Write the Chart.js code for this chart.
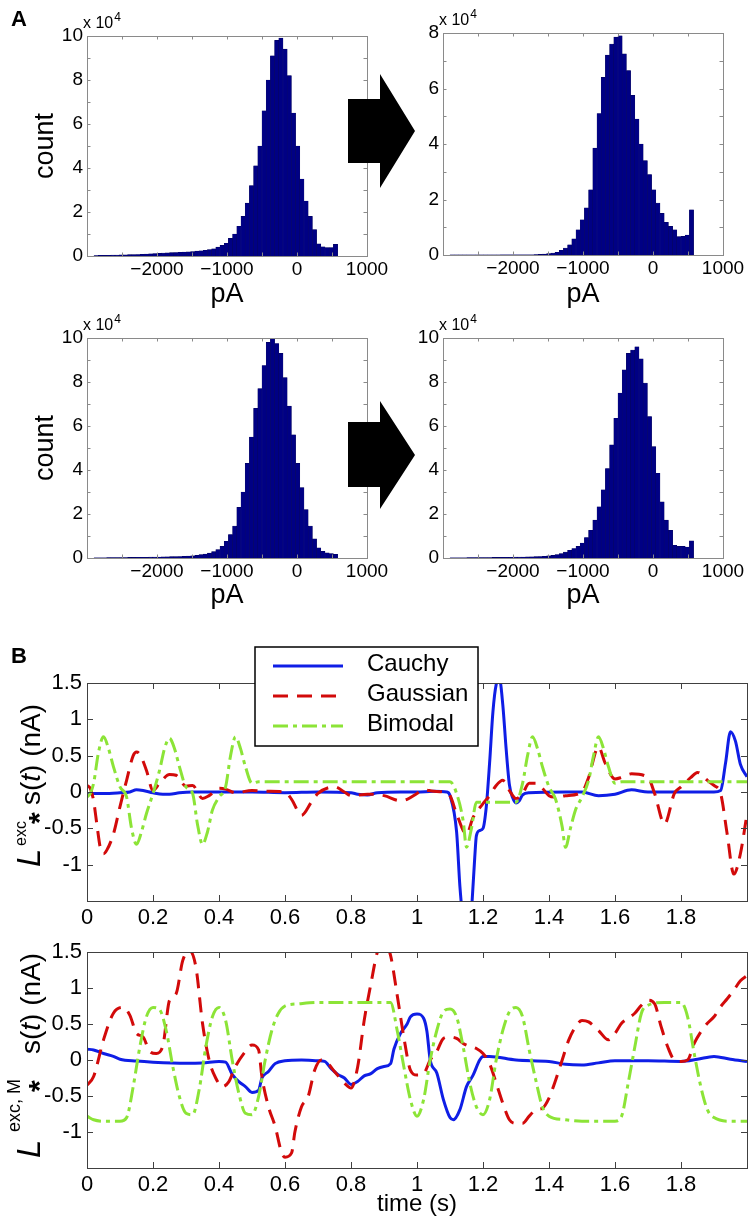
<!DOCTYPE html>
<html><head><meta charset="utf-8">
<script src="https://cdn.jsdelivr.net/npm/chart.js@4/dist/chart.umd.min.js"></script>
<style>
html,body{margin:0;padding:0;background:#fff;}
#wrap{position:relative;width:756px;height:1228px;overflow:hidden;background:#fff;}
canvas{position:absolute;}
svg{position:absolute;left:0;top:0;pointer-events:none;}
</style></head><body>
<div id="wrap">
<canvas id="h1" width="400" height="320" style="left:0px;top:0px"></canvas>
<canvas id="h2" width="378" height="320" style="left:378px;top:0px"></canvas>
<canvas id="h3" width="400" height="320" style="left:0px;top:300px"></canvas>
<canvas id="h4" width="378" height="320" style="left:378px;top:300px"></canvas>
<canvas id="b1" width="756" height="300" style="left:0px;top:630px"></canvas>
<canvas id="b2" width="756" height="298" style="left:0px;top:930px"></canvas>
<svg width="756" height="1228">
  <polygon points="348,99 380,99 380,74 415,131 380,188 380,163 348,163" fill="#000"/>
  <polygon points="348,422 380,422 380,401 415,455 380,509 380,487 348,487" fill="#000"/>
  <text x="11" y="26" font-family="'Liberation Sans', Arial, sans-serif" font-weight="bold" font-size="22">A</text>
  <text x="11" y="663" font-family="'Liberation Sans', Arial, sans-serif" font-weight="bold" font-size="22">B</text>
</svg>
</div>
<script>
// ---------------- DATA ----------------
// Histogram bin centres (pA), 60 pA bins
const binCenters = [-2870,-2810,-2750,-2690,-2630,-2570,-2510,-2450,-2390,-2330,-2270,-2210,-2150,-2090,-2030,
  -1970,-1910,-1850,-1790,-1730,-1670,-1610,-1550,-1490,-1430,-1370,-1310,-1250,-1190,-1130,-1070,-1010,
  -950,-890,-830,-770,-710,-650,-590,-530,-470,-410,-350,-290,-230,-170,-110,-50,
  10,70,130,190,250,310,370,430,490,550];
// counts in units of 10^4
const histTopLeft = [0.02,0.03,0.03,0.03,0.04,0.04,0.05,0.05,0.06,0.06,0.07,0.08,0.09,0.10,0.11,
  0.12,0.13,0.14,0.15,0.16,0.17,0.18,0.19,0.20,0.22,0.24,0.26,0.29,0.33,0.40,0.48,0.58,
  0.8,1.0,1.35,1.8,2.4,3.2,4.1,5.0,6.6,8.0,9.1,9.8,9.9,9.4,8.2,6.5,
  5.0,3.5,2.5,1.8,1.2,0.55,0.42,0.38,0.38,0.53];
const histTopRight = [0.002,0.002,0.002,0.002,0.002,0.002,0.003,0.003,0.003,0.003,0.003,0.003,0.004,0.004,0.004,
  0.004,0.005,0.006,0.008,0.01,0.015,0.02,0.03,0.05,0.07,0.1,0.17,0.25,0.37,0.58,0.91,1.27,
  1.7,2.35,3.85,5.1,6.4,7.2,7.6,7.85,7.9,7.25,6.65,5.75,4.9,4.0,3.4,2.9,
  2.35,1.87,1.5,1.18,1.03,0.91,0.66,0.67,0.72,1.63];
const histBottomLeft = [0.01,0.01,0.01,0.015,0.015,0.02,0.02,0.02,0.025,0.025,0.03,0.03,0.035,0.04,0.04,
  0.045,0.05,0.055,0.06,0.065,0.07,0.08,0.09,0.1,0.12,0.15,0.18,0.22,0.29,0.38,0.53,0.76,
  1.07,1.45,2.3,3.0,4.3,5.5,6.8,7.7,8.75,9.8,9.97,9.75,9.3,8.2,6.9,5.6,
  4.3,3.2,2.2,1.45,0.87,0.46,0.3,0.23,0.2,0.17];
const histBottomRight = [0.01,0.01,0.01,0.01,0.015,0.015,0.015,0.02,0.02,0.02,0.025,0.025,0.03,0.03,0.035,
  0.04,0.04,0.045,0.05,0.055,0.06,0.07,0.08,0.1,0.12,0.15,0.2,0.27,0.35,0.43,0.53,0.68,
  0.93,1.26,1.72,2.33,3.1,4.07,5.14,6.35,7.5,8.55,9.3,9.45,9.6,9.05,7.95,6.43,
  5.06,3.85,2.55,1.72,1.26,0.58,0.53,0.53,0.5,0.78];
const histXLabels = [-2000,-1000,0,1000];
const histYLabels = [0,2,4,6,8,10];

// Panel B, top: L^exc * s(t) (nA)
const topCauchyT = [0,0.05,0.1,0.13,0.15,0.17,0.2,0.23,0.25,0.28,0.32,0.4,0.5,0.6,0.7,0.8,0.82,0.85,0.88,0.95,1.0,1.05,1.09,1.1,1.12,1.13,1.14,1.15,1.16,1.167,1.175,1.18,1.19,1.2,1.21,1.22,1.23,1.24,1.25,1.26,1.27,1.28,1.29,1.3,1.31,1.32,1.34,1.45,1.5,1.55,1.6,1.65,1.7,1.8,1.9,1.92,1.935,1.95,1.965,1.98,2.0];
const topCauchyV = [-0.02,-0.02,-0.01,0.0,0.03,0.02,-0.01,-0.03,-0.03,-0.01,0.0,0.0,0.0,-0.01,0.0,-0.01,-0.03,-0.04,-0.01,0.0,0.0,0.01,0.0,-0.05,-0.55,-1.3,-1.8,-2.2,-1.9,-1.5,-0.9,-0.6,-0.53,-0.5,-0.2,0.4,1.1,1.48,1.55,1.2,0.6,0.1,-0.08,-0.15,-0.12,-0.04,-0.01,0.0,0.0,-0.05,-0.03,0.03,0.0,0.0,0.0,0.02,0.4,0.83,0.7,0.38,0.21];
const topGaussT = [0,0.01,0.02,0.03,0.04,0.05,0.06,0.08,0.1,0.12,0.14,0.15,0.16,0.18,0.2,0.22,0.25,0.27,0.3,0.32,0.35,0.37,0.4,0.42,0.45,0.5,0.55,0.6,0.62,0.65,0.68,0.7,0.75,0.78,0.8,0.85,0.9,0.95,0.97,1.0,1.02,1.05,1.08,1.1,1.12,1.15,1.17,1.2,1.22,1.24,1.26,1.28,1.3,1.32,1.34,1.36,1.38,1.4,1.42,1.45,1.5,1.52,1.55,1.57,1.6,1.62,1.65,1.7,1.72,1.75,1.78,1.8,1.83,1.85,1.88,1.9,1.92,1.94,1.96,1.98,2.0];
const topGaussV = [0.09,0.05,-0.12,-0.45,-0.76,-0.85,-0.8,-0.58,-0.2,0.16,0.5,0.55,0.52,0.3,0.02,0.12,0.24,0.23,0.08,0.09,-0.09,-0.05,0.05,0.04,-0.01,0.02,0.01,0.0,-0.1,-0.32,-0.14,-0.02,0.07,0.0,-0.05,-0.03,-0.05,-0.12,-0.1,-0.02,0.03,0.01,0.0,-0.05,-0.3,-0.58,-0.35,-0.16,-0.05,0.09,0.16,0.02,-0.09,-0.02,0.12,0.12,0.05,-0.05,-0.07,-0.05,0.0,0.2,0.62,0.4,0.18,0.2,0.25,0.2,-0.02,-0.44,-0.02,0.07,0.2,0.27,0.16,0.09,-0.02,-0.58,-1.13,-0.85,-0.3];
const topBiT = [0,0.01,0.02,0.035,0.05,0.065,0.08,0.1,0.12,0.135,0.15,0.165,0.18,0.2,0.22,0.235,0.25,0.265,0.28,0.3,0.32,0.335,0.35,0.365,0.38,0.4,0.42,0.435,0.45,0.465,0.48,0.5,0.52,0.55,1.1,1.12,1.14,1.15,1.165,1.18,1.2,1.3,1.32,1.335,1.35,1.365,1.38,1.4,1.42,1.44,1.45,1.465,1.48,1.5,1.52,1.535,1.55,1.565,1.58,1.6,1.62,2.0];
const topBiV = [-0.07,-0.02,0.12,0.55,0.76,0.6,0.35,0.07,-0.07,-0.5,-0.72,-0.55,-0.3,-0.02,0.3,0.6,0.74,0.6,0.35,0.07,-0.02,-0.45,-0.72,-0.55,-0.25,-0.07,0.07,0.5,0.76,0.6,0.35,0.12,0.14,0.14,0.14,-0.02,-0.4,-0.76,-0.5,-0.14,-0.14,-0.14,0.12,0.5,0.76,0.6,0.35,0.07,-0.1,-0.48,-0.76,-0.5,-0.25,-0.07,0.16,0.5,0.76,0.6,0.35,0.12,0.14,0.14];

// Panel B, bottom: L^exc,M * s(t) (nA)
const botCauchyT = [0,0.02,0.05,0.08,0.1,0.15,0.2,0.3,0.35,0.4,0.42,0.44,0.46,0.48,0.5,0.52,0.53,0.55,0.57,0.6,0.65,0.7,0.72,0.74,0.76,0.78,0.8,0.82,0.84,0.86,0.88,0.9,0.92,0.93,0.95,0.97,0.98,1.0,1.02,1.03,1.04,1.06,1.08,1.1,1.11,1.13,1.15,1.17,1.19,1.2,1.22,1.3,1.4,1.45,1.5,1.55,1.6,1.7,1.8,1.85,1.9,1.95,2.0];
const botCauchyV = [0.15,0.14,0.09,0.05,0.01,-0.015,-0.03,-0.045,-0.04,-0.02,-0.03,-0.2,-0.3,-0.37,-0.45,-0.42,-0.25,-0.16,-0.05,-0.01,0.0,-0.01,-0.02,-0.12,-0.2,-0.25,-0.34,-0.3,-0.22,-0.19,-0.12,-0.09,-0.05,0.15,0.37,0.5,0.6,0.64,0.58,0.4,0.0,-0.18,-0.55,-0.8,-0.83,-0.69,-0.37,-0.21,0.0,0.05,0.05,0.0,-0.02,-0.06,-0.07,-0.04,-0.01,-0.01,-0.02,0.01,0.05,0.01,-0.02];
const botGaussT = [0,0.02,0.05,0.08,0.11,0.13,0.15,0.17,0.19,0.21,0.23,0.25,0.27,0.29,0.31,0.33,0.35,0.37,0.39,0.41,0.43,0.45,0.48,0.5,0.52,0.53,0.55,0.57,0.59,0.6,0.62,0.63,0.65,0.67,0.69,0.71,0.73,0.75,0.78,0.8,0.82,0.84,0.86,0.88,0.9,0.92,0.94,0.96,0.98,1.0,1.02,1.04,1.06,1.08,1.1,1.12,1.14,1.16,1.18,1.2,1.22,1.24,1.26,1.28,1.3,1.32,1.34,1.36,1.38,1.4,1.42,1.44,1.46,1.48,1.5,1.52,1.55,1.58,1.6,1.62,1.64,1.66,1.68,1.7,1.72,1.74,1.76,1.78,1.8,1.82,1.84,1.86,1.88,1.9,1.92,1.94,1.96,1.98,2.0];
const botGaussV = [-0.35,-0.23,0.28,0.65,0.73,0.62,0.37,0.32,0.12,0.09,0.2,0.83,0.92,1.38,1.52,1.29,0.51,0.0,-0.25,-0.37,-0.3,-0.09,0.12,0.21,0.14,-0.23,-0.65,-0.92,-1.29,-1.35,-1.29,-1.0,-0.65,-0.51,-0.14,0.0,-0.05,-0.16,-0.32,-0.39,-0.1,0.55,1.05,1.5,1.65,1.45,0.9,0.32,-0.14,-0.21,-0.19,0.0,0.12,0.3,0.32,0.3,0.23,0.19,0.16,0.09,-0.05,-0.32,-0.6,-0.83,-0.88,-0.88,-0.78,-0.69,-0.67,-0.53,-0.28,0.0,0.28,0.46,0.55,0.53,0.41,0.28,0.37,0.51,0.58,0.65,0.76,0.83,0.78,0.46,0.18,0.0,-0.02,0.0,0.23,0.39,0.51,0.6,0.74,0.85,0.97,1.1,1.17];
const botBiT = [0,0.02,0.05,0.1,0.12,0.14,0.16,0.18,0.2,0.22,0.24,0.26,0.28,0.3,0.32,0.34,0.36,0.38,0.4,0.42,0.44,0.46,0.48,0.5,0.52,0.54,0.56,0.58,0.6,0.64,0.7,0.92,0.94,0.96,0.98,1.0,1.02,1.04,1.06,1.08,1.1,1.12,1.14,1.16,1.18,1.2,1.22,1.24,1.26,1.28,1.3,1.32,1.34,1.36,1.38,1.4,1.45,1.5,1.6,1.62,1.64,1.66,1.68,1.7,1.75,1.8,1.82,1.84,1.86,1.88,1.9,1.95,2.0];
const botBiV = [-0.78,-0.83,-0.85,-0.85,-0.8,-0.37,0.18,0.6,0.73,0.7,0.41,-0.09,-0.51,-0.74,-0.76,-0.41,0.18,0.6,0.73,0.55,0.0,-0.46,-0.74,-0.76,-0.51,0.0,0.41,0.65,0.75,0.78,0.8,0.8,0.41,-0.09,-0.55,-0.78,-0.55,0.0,0.41,0.67,0.71,0.6,0.18,-0.32,-0.65,-0.76,-0.55,0.0,0.41,0.67,0.73,0.6,0.14,-0.28,-0.65,-0.78,-0.83,-0.85,-0.85,-0.78,-0.32,0.18,0.65,0.76,0.8,0.8,0.6,0.09,-0.37,-0.69,-0.8,-0.85,-0.85];
const seriesNames = ['Cauchy','Gaussian','Bimodal'];
const bXLabels = [0,0.2,0.4,0.6,0.8,1,1.2,1.4,1.6,1.8];
const bYLabels = [1.5,1,0.5,0,-0.5,-1];

// ---------------- STYLE ----------------
const FONT = "'Liberation Sans', Arial, Helvetica, sans-serif";
const HIST_FILL = 'rgb(0,0,132)';
const HIST_EDGE = 'rgb(0,0,85)';
const C_BLUE = 'rgb(15,30,230)';
const C_RED = 'rgb(210,10,10)';
const C_GREEN = 'rgb(140,228,55)';
Chart.defaults.font.family = FONT;
Chart.defaults.color = '#000';
Chart.defaults.animation = false;

function boxPlugin(color, tickLen) {
  return {
    id: 'matlabBox',
    afterDatasetsDraw(chart) {
      const {ctx, chartArea: a, scales: {x, y}} = chart;
      ctx.save();
      ctx.strokeStyle = color; ctx.lineWidth = 1; ctx.setLineDash([]);
      ctx.beginPath();
      x.ticks.forEach(t => {
        const px = Math.round(x.getPixelForValue(t.value)) + 0.5;
        ctx.moveTo(px, a.bottom); ctx.lineTo(px, a.bottom - tickLen);
        ctx.moveTo(px, a.top); ctx.lineTo(px, a.top + tickLen);
      });
      y.ticks.forEach(t => {
        const py = Math.round(y.getPixelForValue(t.value)) + 0.5;
        ctx.moveTo(a.left, py); ctx.lineTo(a.left + tickLen, py);
        ctx.moveTo(a.right, py); ctx.lineTo(a.right - tickLen, py);
      });
      ctx.stroke();
      ctx.strokeRect(Math.round(a.left) + 0.5, Math.round(a.top) + 0.5, Math.round(a.right - a.left), Math.round(a.bottom - a.top));
      ctx.restore();
    }
  };
}
const expPlugin = {
  id: 'exp10',
  afterDraw(chart) {
    const {ctx, chartArea: a} = chart;
    ctx.save();
    ctx.fillStyle = '#000'; ctx.textBaseline = 'alphabetic'; ctx.textAlign = 'left';
    ctx.font = '16px ' + FONT;
    const x0 = a.left - 4, y0 = a.top - 8;
    ctx.fillText('x 10', x0, y0);
    const w = ctx.measureText('x 10').width;
    ctx.font = '12px ' + FONT;
    ctx.fillText('4', x0 + w + 1, y0 - 7);
    ctx.restore();
  }
};

function makeHist(id, vals, o) {
  const pts = binCenters.map((c, i) => ({x: c, y: vals[i]}));
  new Chart(document.getElementById(id), {
    type: 'bar',
    data: { datasets: [{ data: pts, backgroundColor: HIST_FILL, borderColor: HIST_EDGE, borderWidth: 0.4,
      barPercentage: 1, categoryPercentage: 1 }] },
    options: {
      responsive: false, animation: false, devicePixelRatio: 1,
      layout: { padding: { top: o.padTop, right: 33, left: 0, bottom: 0 } },
      plugins: { legend: {display: false}, tooltip: {enabled: false} },
      scales: {
        x: {
          type: 'linear', min: -3000, max: 1000, offset: false,
          grid: {display: false, drawTicks: false, offset: false}, border: {display: false},
          ticks: { stepSize: 500, autoSkip: false, maxRotation: 0, minRotation: 0, padding: 2,
            font: {size: 19}, color: '#000',
            callback: v => histXLabels.includes(v) ? (v < 0 ? '\u2212' + Math.abs(v) : String(v)) : '' },
          title: { display: true, text: 'pA', font: {size: 27}, color: '#000', padding: {top: 0, bottom: o.titlePadB} },
          afterFit: s => { s.height = o.xHeight; }
        },
        y: {
          type: 'linear', min: 0, max: o.yMax,
          grid: {display: false, drawTicks: false}, border: {display: false},
          ticks: { stepSize: 1, autoSkip: false, padding: 4, font: {size: 19}, color: '#000',
            callback: v => histYLabels.includes(v) ? String(v) : '' },
          title: { display: o.count, text: 'count', font: {size: 27}, color: '#000', padding: {top: 29, bottom: 0} },
          afterFit: s => { s.width = o.yWidth; }
        }
      }
    },
    plugins: [boxPlugin('#8a8a8a', 3.5), expPlugin]
  });
}

makeHist('h1', histTopLeft,     {padTop: 36, yMax: 10, yWidth: 87, count: true,  xHeight: 64, titlePadB: 9});
makeHist('h2', histTopRight,    {padTop: 33, yMax: 8,  yWidth: 65, count: false, xHeight: 65, titlePadB: 9});
makeHist('h3', histBottomLeft,  {padTop: 38, yMax: 10, yWidth: 87, count: true,  xHeight: 62, titlePadB: 8});
makeHist('h4', histBottomRight, {padTop: 38, yMax: 10, yWidth: 65, count: false, xHeight: 62, titlePadB: 8});

// ---------- panel B ----------
function zip(t, v) { return t.map((tt, i) => ({x: tt, y: v[i]})); }
function lineSets(ct, cv, gt, gv, bt, bv) {
  const common = { borderWidth: 3, pointRadius: 0, fill: false, cubicInterpolationMode: 'monotone', borderCapStyle: 'butt', borderJoinStyle: 'round' };
  return [
    Object.assign({ label: seriesNames[0], data: zip(ct, cv), borderColor: C_BLUE, borderDash: [], order: 3 }, common),
    Object.assign({ label: seriesNames[1], data: zip(gt, gv), borderColor: C_RED, borderDash: [15, 9], order: 2 }, common),
    Object.assign({ label: seriesNames[2], data: zip(bt, bv), borderColor: C_GREEN, borderDash: [15, 5, 4, 5], order: 1 }, common)
  ];
}
function richLabel(bx, by, pieces) {
  return {
    id: 'richY',
    afterDraw(chart) {
      const ctx = chart.ctx;
      ctx.save();
      ctx.translate(bx, by); ctx.rotate(-Math.PI / 2);
      ctx.fillStyle = '#000'; ctx.textBaseline = 'alphabetic'; ctx.textAlign = 'left';
      let u = 0;
      pieces.forEach(p => {
        ctx.font = p.f;
        const at = (p.u !== undefined) ? p.u : u;
        ctx.fillText(p.t, at, p.dy || 0);
        u = at + ctx.measureText(p.t).width;
      });
      ctx.restore();
    }
  };
}
const legendPlugin = {
  id: 'bLegend',
  afterDraw(chart) {
    const ctx = chart.ctx;
    const bx = 255, by = 17, bw = 223, bh = 99;
    const rows = [36, 66, 96];
    ctx.save();
    ctx.fillStyle = '#fff'; ctx.fillRect(bx, by, bw, bh);
    ctx.strokeStyle = '#000'; ctx.lineWidth = 1.5; ctx.setLineDash([]);
    ctx.strokeRect(bx, by, bw, bh);
    chart.data.datasets.forEach((ds, i) => {
      const yy = rows[i];
      ctx.strokeStyle = ds.borderColor; ctx.lineWidth = ds.borderWidth; ctx.lineCap = 'butt';
      ctx.setLineDash(ds.borderDash || []);
      ctx.beginPath(); ctx.moveTo(273, yy); ctx.lineTo(343, yy); ctx.stroke();
      ctx.setLineDash([]);
      ctx.fillStyle = '#000'; ctx.font = '24px ' + FONT; ctx.textBaseline = 'middle'; ctx.textAlign = 'left';
      ctx.fillText(ds.label, 367, yy - 2);
    });
    ctx.restore();
  }
};

function makeLine(id, sets, o) {
  new Chart(document.getElementById(id), {
    type: 'line',
    data: { datasets: sets },
    options: {
      responsive: false, animation: false, devicePixelRatio: 1,
      layout: { padding: { top: o.padTop, right: 9, left: 0, bottom: 0 } },
      plugins: { legend: {display: false}, tooltip: {enabled: false} },
      scales: {
        x: {
          type: 'linear', min: 0, max: 2,
          grid: {display: false, drawTicks: false}, border: {display: false},
          ticks: { stepSize: 0.2, autoSkip: false, maxRotation: 0, minRotation: 0, padding: 4, font: {size: 22}, color: '#000',
            callback: v => { const r = Math.round(v * 10) / 10; return bXLabels.includes(r) ? String(r) : ''; } },
          title: { display: !!o.xTitle, text: o.xTitle || '', font: {size: 24}, color: '#000', padding: {top: 0, bottom: 9} },
          afterFit: s => { s.height = o.xHeight; }
        },
        y: {
          type: 'linear', min: -1.5, max: 1.5,
          grid: {display: false, drawTicks: false}, border: {display: false},
          ticks: { stepSize: 0.5, autoSkip: false, padding: 5, font: {size: 22}, color: '#000',
            callback: v => bYLabels.includes(v) ? String(v) : '' },
          afterFit: s => { s.width = 87; }
        }
      }
    },
    plugins: [boxPlugin('#404040', 6)].concat(o.extra)
  });
}

const F = FONT;
makeLine('b1', lineSets(topCauchyT, topCauchyV, topGaussT, topGaussV, topBiT, topBiV), {
  padTop: 53, xHeight: 29,
  extra: [legendPlugin, richLabel(39.5, 237, [
    {t: 'L', f: 'italic 33px ' + F, u: 0},
    {t: 'exc', f: '16px ' + F, u: 21, dy: -14},
    {t: '*', f: 'bold 30px ' + F, u: 43, dy: 9},
    {t: 's(', f: '28px ' + F, u: 62},
    {t: 't', f: 'italic 28px ' + F},
    {t: ') (nA)', f: '28px ' + F}
  ])]
});
makeLine('b2', lineSets(botCauchyT, botCauchyV, botGaussT, botGaussV, botBiT, botBiV), {
  padTop: 22, xHeight: 60, xTitle: 'time (s)',
  extra: [richLabel(39.5, 228, [
    {t: 'L', f: 'italic 33px ' + F, u: 0},
    {t: 'exc, M', f: '18px ' + F, u: 26, dy: -20},
    {t: '*', f: 'bold 30px ' + F, u: 66, dy: 9},
    {t: 's(', f: '28px ' + F, u: 104},
    {t: 't', f: 'italic 28px ' + F},
    {t: ') (nA)', f: '28px ' + F}
  ])]
});
</script>
</body></html>
